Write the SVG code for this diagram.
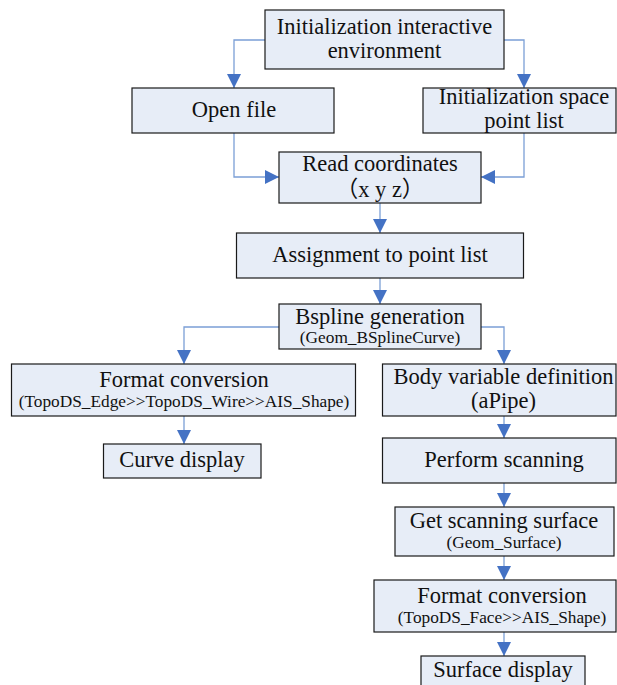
<svg xmlns="http://www.w3.org/2000/svg" width="617" height="685" viewBox="0 0 617 685">
<defs>
<style>
.box{fill:#E7EDF7;stroke:#1a1a1a;stroke-width:1.2}
.t{font-size:22.5px;fill:#111;text-anchor:middle}
.s{font-size:17.3px;fill:#111;text-anchor:middle}
.c{fill:none;stroke:#7B9FD6;stroke-width:1.3}
.ah{fill:#4472C4}
</style>
<marker id="arr" viewBox="0 0 14 14" refX="14" refY="7" markerWidth="14" markerHeight="14" markerUnits="userSpaceOnUse" orient="auto">
<path d="M0,0 L14,7 L0,14 Z" class="ah"/>
</marker>
</defs>
<rect width="617" height="685" fill="#fff"/>
<g id="connectors">
<path class="c" d="M265,40 H234 V88" marker-end="url(#arr)"/>
<path class="c" d="M504,40 H524 V88" marker-end="url(#arr)"/>
<path class="c" d="M234,133 V177 H279" marker-end="url(#arr)"/>
<path class="c" d="M524,133 V177 H481" marker-end="url(#arr)"/>
<path class="c" d="M380,203 V233" marker-end="url(#arr)"/>
<path class="c" d="M380,278 V304" marker-end="url(#arr)"/>
<path class="c" d="M279,327 H184 V364" marker-end="url(#arr)"/>
<path class="c" d="M481,327 H504 V364" marker-end="url(#arr)"/>
<path class="c" d="M184,416 V444" marker-end="url(#arr)"/>
<path class="c" d="M504,416 V438" marker-end="url(#arr)"/>
<path class="c" d="M504,483 V507" marker-end="url(#arr)"/>
<path class="c" d="M504,556 V580" marker-end="url(#arr)"/>
<path class="c" d="M504,632 V656" marker-end="url(#arr)"/>
</g>
<g font-family="'Liberation Serif', 'DejaVu Serif', 'Noto Sans CJK SC', serif">
<g id="n_init_env">
<rect class="box" x="265" y="10" width="239" height="59"/>
<text class="t" x="384.5" y="34">Initialization interactive</text>
<text class="t" x="384.5" y="58">environment</text>
</g>
<g id="n_open_file">
<rect class="box" x="132" y="88" width="202" height="45"/>
<text class="t" x="234" y="117">Open file</text>
</g>
<g id="n_init_space">
<rect class="box" x="423" y="88" width="193" height="45"/>
<text class="t" x="524" y="104">Initialization space</text>
<text class="t" x="524" y="128">point list</text>
</g>
<g id="n_read">
<rect class="box" x="279" y="152" width="202" height="51"/>
<text class="t" x="380" y="170.5">Read coordinates</text>
<text class="t" x="380" y="196.5">（x y z）</text>
</g>
<g id="n_assign">
<rect class="box" x="236.5" y="233" width="287" height="45"/>
<text class="t" x="380" y="262">Assignment to point list</text>
</g>
<g id="n_bspline">
<rect class="box" x="279" y="304" width="202" height="45"/>
<text class="t" x="380" y="324">Bspline generation</text>
<text class="s" x="380" y="343">(Geom_BSplineCurve)</text>
</g>
<g id="n_format1">
<rect class="box" x="11.5" y="364" width="344" height="52"/>
<text class="t" x="184" y="387">Format conversion</text>
<text class="s" x="184" y="407">(TopoDS_Edge&gt;&gt;TopoDS_Wire&gt;&gt;AIS_Shape)</text>
</g>
<g id="n_curve">
<rect class="box" x="103.5" y="444" width="157.5" height="34"/>
<text class="t" x="182" y="467">Curve display</text>
</g>
<g id="n_body">
<rect class="box" x="382.5" y="364" width="233.5" height="52"/>
<text class="t" x="503.5" y="384">Body variable definition</text>
<text class="t" x="503.5" y="408">(aPipe)</text>
</g>
<g id="n_perform">
<rect class="box" x="382.5" y="438" width="233.5" height="45"/>
<text class="t" x="504" y="467">Perform scanning</text>
</g>
<g id="n_getsurf">
<rect class="box" x="395" y="507" width="219" height="49"/>
<text class="t" x="504" y="528">Get scanning surface</text>
<text class="s" x="504" y="548">(Geom_Surface)</text>
</g>
<g id="n_format2">
<rect class="box" x="374" y="580" width="242" height="52"/>
<text class="t" x="502" y="603">Format conversion</text>
<text class="s" x="502" y="623">(TopoDS_Face&gt;&gt;AIS_Shape)</text>
</g>
<g id="n_surface">
<rect class="box" x="421" y="656" width="164" height="40"/>
<text class="t" x="503" y="677">Surface display</text>
</g>
</g>
</svg>
